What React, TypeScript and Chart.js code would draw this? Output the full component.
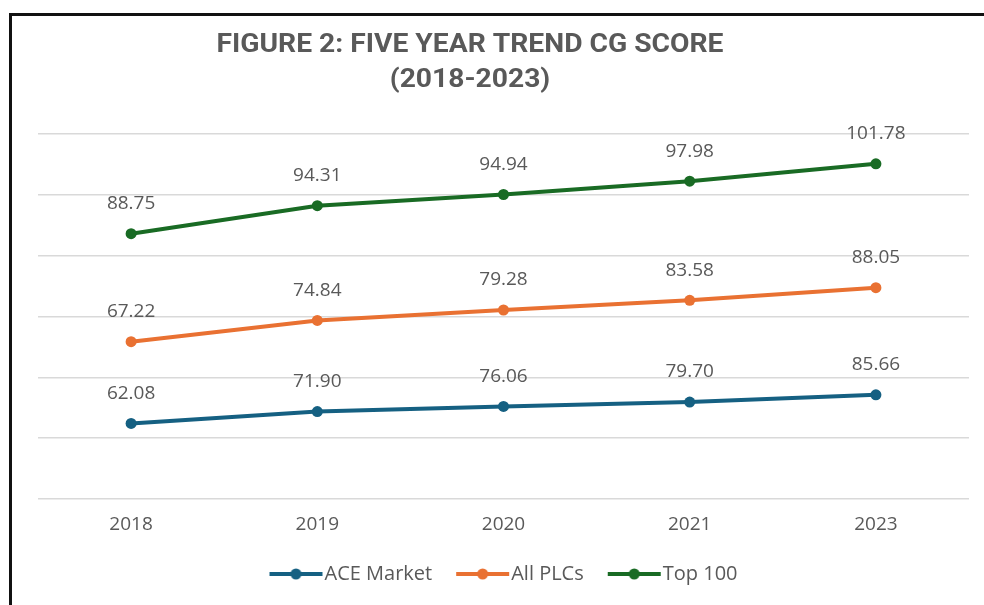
import React, { useEffect, useRef } from "react";
import { Chart, registerables } from "chart.js";

Chart.register(...registerables);

const categories = ["2018", "2019", "2020", "2021", "2023"];
const aceMarket = [62.08, 71.9, 76.06, 79.7, 85.66];
const allPLCs = [67.22, 74.84, 79.28, 83.58, 88.05];
const top100 = [88.75, 94.31, 94.94, 97.98, 101.78];
const seriesNames = ["ACE Market", "All PLCs", "Top 100"];
const titleLines = ["FIGURE 2: FIVE YEAR TREND CG SCORE", "(2018-2023)"];

const COLORS = ["#156082", "#E97132", "#196B24"];
const TEXT = "#595959";
const FONT = "'Open Sans', Arial, sans-serif";

function legendIcon(color: string) {
  const c = document.createElement("canvas");
  c.width = 65;
  c.height = 12;
  const g = c.getContext("2d")!;
  g.strokeStyle = color;
  g.lineWidth = 4;
  g.beginPath();
  g.moveTo(10, 6);
  g.lineTo(63, 6);
  g.stroke();
  g.fillStyle = color;
  g.beginPath();
  g.arc(36.5, 6, 5.5, 0, Math.PI * 2);
  g.fill();
  return c;
}

const titlePlugin = {
  id: "customTitle",
  afterDraw(chart: any) {
    const ctx = chart.ctx;
    ctx.save();
    ctx.fillStyle = TEXT;
    ctx.font = "bold 26px Roboto, sans-serif";
    ctx.textAlign = "center";
    ctx.textBaseline = "middle";
    const w = ctx.measureText(titleLines[0]).width;
    const sx = 507 / w;
    const cx = 470;
    [45, 80].forEach((y, i) => {
      ctx.save();
      ctx.translate(cx, y);
      ctx.scale(sx, 1);
      ctx.fillText(titleLines[i], 0, 0);
      ctx.restore();
    });
    ctx.restore();
  },
};

const labelPlugin = {
  id: "valueLabels",
  afterDatasetsDraw(chart: any) {
    const ctx = chart.ctx;
    ctx.save();
    ctx.fillStyle = TEXT;
    ctx.font = `19px ${FONT}`;
    ctx.textAlign = "center";
    ctx.textBaseline = "middle";
    chart.data.datasets.forEach((ds: any, di: number) => {
      const meta = chart.getDatasetMeta(di);
      meta.data.forEach((el: any, i: number) => {
        ctx.fillText(Number(ds.data[i]).toFixed(2), el.x, el.y - 30);
      });
    });
    ctx.restore();
  },
};

export default function App() {
  const ref = useRef<HTMLCanvasElement | null>(null);
  useEffect(() => {
    if (!ref.current) return;
    const series = [aceMarket, allPLCs, top100];
    const chart = new Chart(ref.current, {
      type: "line",
      data: {
        labels: categories,
        datasets: series.map((d, i) => ({
          label: seriesNames[i],
          data: d,
          borderColor: COLORS[i],
          backgroundColor: COLORS[i],
          borderWidth: 4,
          pointRadius: 5.5,
          pointBackgroundColor: COLORS[i],
          pointBorderWidth: 0,
          fill: false,
          tension: 0,
        })),
      },
      options: {
        responsive: false,
        animation: false,
        layout: { padding: { left: 38, right: 15, top: 134, bottom: 11 } },
        scales: {
          x: {
            offset: true,
            grid: { display: false, drawTicks: false },
            border: { display: false },
            ticks: { color: TEXT, font: { family: FONT, size: 19 }, padding: 14 },
            afterFit: (s: any) => {
              s.height = 41;
            },
          },
          y: {
            stacked: true,
            min: 0,
            max: 300,
            grid: { color: "#d9d9d9", lineWidth: 1.5, drawTicks: false },
            border: { display: false },
            ticks: { display: false, stepSize: 50 },
          },
        },
        plugins: {
          title: { display: false },
          tooltip: { enabled: false },
          legend: {
            position: "bottom",
            labels: {
              color: TEXT,
              font: { family: FONT, size: 20 },
              usePointStyle: true,
              pointStyleWidth: 45,
              padding: 24,
              generateLabels: (c: any) => {
                const items = (Chart.defaults.plugins.legend.labels as any).generateLabels(c);
                items.forEach((it: any, i: number) => {
                  it.pointStyle = legendIcon(COLORS[i]);
                });
                return items;
              },
            },
          },
        },
      },
      plugins: [titlePlugin, labelPlugin],
    } as any);
    return () => chart.destroy();
  }, []);

  return (
    <div style={{ position: "fixed", left: 0, top: 0, width: 984, height: 605, background: "#fff", overflow: "hidden" }}>
      <canvas ref={ref} width={984} height={605} style={{ position: "absolute", left: 0, top: 0 }} />
      <div
        style={{
          position: "absolute",
          left: 9,
          top: 13,
          width: 1000,
          height: 700,
          borderLeft: "3px solid #111",
          borderTop: "3px solid #111",
          pointerEvents: "none",
        }}
      />
    </div>
  );
}
